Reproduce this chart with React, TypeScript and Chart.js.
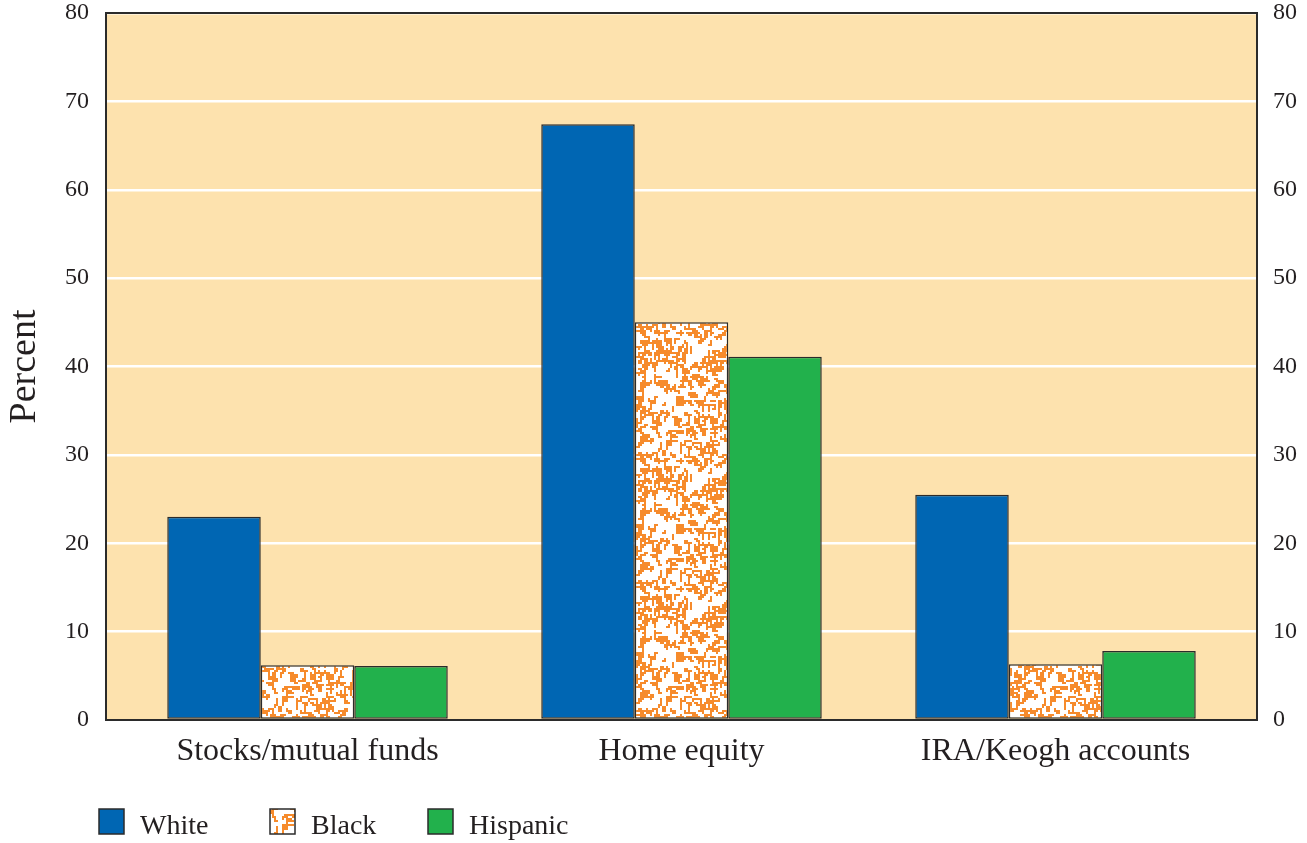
import React, { useEffect, useRef } from "react";
import { Chart, registerables } from "chart.js";

Chart.register(...registerables);

const CATEGORIES = ["Stocks/mutual funds", "Home equity", "IRA/Keogh accounts"];
const SERIES = ["White", "Black", "Hispanic"];
const WHITE = [23.0, 67.4, 25.5];
const BLACK = [6.2, 45.0, 6.3];
const HISPANIC = [6.1, 41.1, 7.8];
const Y_MIN = 0;
const Y_MAX = 80;
const Y_STEP = 10;
const AXIS_TITLE = "Percent";

const FONT = "'Liberation Serif', 'Times New Roman', serif";
const TEXT = "#231f20";
const EDGE = "#2b2b2b";
const PLOT_BG = "#fde2ae";
const BLUE = "#0066b3";
const GREEN = "#22b14c";
const ORANGE = "#f68b2c";
const LEGEND_X = [99, 270, 428];

function makePattern(): CanvasPattern | string {
  const size = 128;
  const c = document.createElement("canvas");
  c.width = size;
  c.height = size;
  const g = c.getContext("2d");
  if (!g) return ORANGE;
  g.fillStyle = "#ffffff";
  g.fillRect(0, 0, size, size);
  g.fillStyle = ORANGE;
  let s = 424242;
  const rnd = () => {
    s = (s * 1103515245 + 12345) & 0x7fffffff;
    return s / 0x7fffffff;
  };
  const dirs = [
    [1, 0],
    [0, 1],
    [-1, 0],
    [0, -1],
  ];
  const cells = size / 2;
  for (let w = 0; w < 520; w++) {
    let x = Math.floor(rnd() * cells);
    let y = Math.floor(rnd() * cells);
    let d = Math.floor(rnd() * 4);
    const len = 3 + Math.floor(rnd() * 4);
    for (let k = 0; k < len; k++) {
      const px = (((x % cells) + cells) % cells) * 2;
      const py = (((y % cells) + cells) % cells) * 2;
      g.fillRect(px, py, 2, 2);
      const r = rnd();
      if (r < 0.3) d = (d + 1) % 4;
      else if (r < 0.6) d = (d + 3) % 4;
      x += dirs[d][0];
      y += dirs[d][1];
    }
  }
  return g.createPattern(c, "repeat") || ORANGE;
}

const plotFrame = {
  id: "plotFrame",
  beforeDraw(chart: any) {
    const { ctx, chartArea: a } = chart;
    ctx.save();
    ctx.fillStyle = PLOT_BG;
    ctx.fillRect(a.left, a.top, a.right - a.left, a.bottom - a.top);
    ctx.restore();
  },
  afterDatasetsDraw(chart: any) {
    const { ctx, chartArea: a } = chart;
    ctx.save();
    ctx.strokeStyle = EDGE;
    ctx.lineWidth = 2;
    ctx.strokeRect(a.left, a.top, a.right - a.left, a.bottom - a.top);
    ctx.restore();
  },
  afterDraw(chart: any) {
    const { ctx } = chart;
    const boxTop = chart.height - 34;
    ctx.save();
    ctx.font = `28px ${FONT}`;
    ctx.textBaseline = "alphabetic";
    ctx.textAlign = "left";
    chart.data.datasets.forEach((ds: any, i: number) => {
      const x = LEGEND_X[i];
      ctx.fillStyle = ds.backgroundColor;
      ctx.fillRect(x, boxTop, 25, 25);
      ctx.strokeStyle = EDGE;
      ctx.lineWidth = 1.5;
      ctx.strokeRect(x, boxTop, 25, 25);
      ctx.fillStyle = TEXT;
      ctx.fillText(ds.label, x + 41, boxTop + 25);
    });
    ctx.restore();
  },
};

export default function App() {
  const ref = useRef<HTMLCanvasElement | null>(null);

  useEffect(() => {
    if (!ref.current) return;
    const pattern = makePattern();
    const toPts = (arr: number[]) => arr.map((v, i) => ({ x: i, y: v }));
    const colors = [BLUE, pattern, GREEN];
    const values = [WHITE, BLACK, HISPANIC];
    const yTicks = {
      stepSize: Y_STEP,
      color: TEXT,
      font: { family: FONT, size: 24 },
    };
    const chart = new Chart(ref.current, {
      type: "bar",
      data: {
        datasets: SERIES.map((name, i) => ({
          label: name,
          data: toPts(values[i]) as any,
          backgroundColor: colors[i] as any,
          borderColor: EDGE,
          borderWidth: 1.5,
          borderSkipped: false,
          categoryPercentage: 0.75,
          barPercentage: 1,
        })),
      },
      options: {
        responsive: false,
        animation: false,
        events: [],
        layout: { padding: { top: 13, left: 0, right: 0, bottom: 0 } },
        plugins: {
          legend: { display: false },
          tooltip: { enabled: false },
        },
        scales: {
          x: {
            type: "linear",
            min: -0.5388,
            max: 2.5388,
            offset: false,
            grid: { display: false, drawTicks: false, offset: false },
            border: { display: false },
            afterBuildTicks: (s: any) => {
              s.ticks = CATEGORIES.map((_, i) => ({ value: i }));
            },
            ticks: {
              autoSkip: false,
              maxRotation: 0,
              padding: 12,
              color: TEXT,
              font: { family: FONT, size: 32 },
              callback: (v: any) => CATEGORIES[Math.round(Number(v))] ?? "",
            },
            afterFit: (s: any) => {
              s.height = 123;
              s.paddingLeft = 0;
              s.paddingRight = 0;
            },
          },
          y: {
            position: "left",
            min: Y_MIN,
            max: Y_MAX,
            grid: { color: "#ffffff", lineWidth: 2.5, drawTicks: false },
            border: { display: false },
            ticks: { ...yTicks, padding: 17 },
            title: {
              display: true,
              text: AXIS_TITLE,
              color: TEXT,
              font: { family: FONT, size: 38 },
              padding: { top: 2, bottom: 0 },
            },
            afterFit: (s: any) => {
              s.width = 106;
              s.paddingTop = 0;
              s.paddingBottom = 0;
            },
          },
          y2: {
            position: "right",
            min: Y_MIN,
            max: Y_MAX,
            grid: { display: false, drawTicks: false },
            border: { display: false },
            ticks: { ...yTicks, padding: 16 },
            afterFit: (s: any) => {
              s.width = 50;
              s.paddingTop = 0;
              s.paddingBottom = 0;
            },
          },
        },
      } as any,
      plugins: [plotFrame],
    });
    return () => chart.destroy();
  }, []);

  return (
    <div style={{ position: "absolute", left: 0, top: 0, width: 1307, height: 843, background: "#fff" }}>
      <canvas ref={ref} width={1307} height={843} style={{ display: "block" }} />
    </div>
  );
}
